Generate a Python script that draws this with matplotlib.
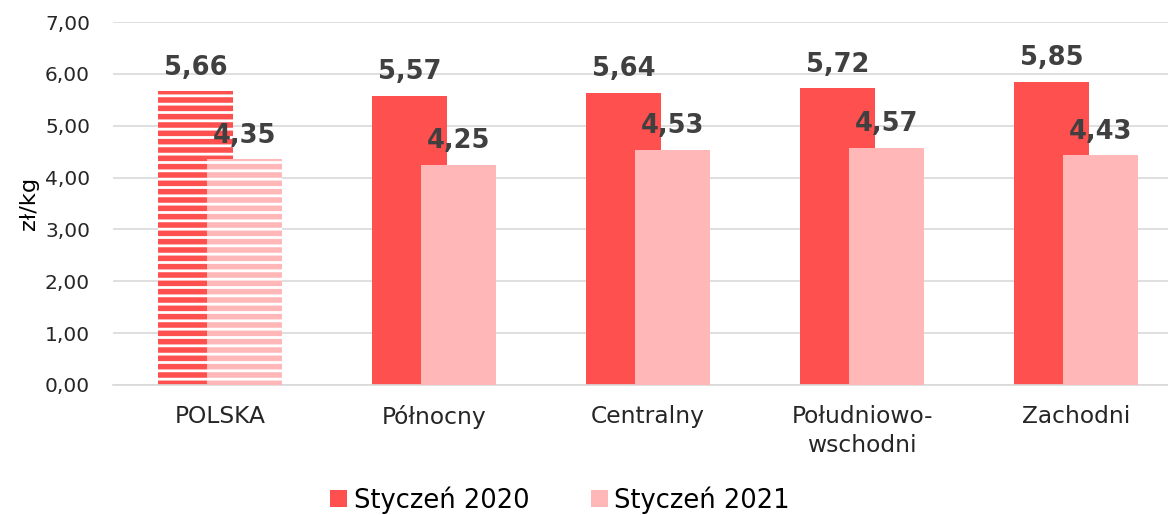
import matplotlib
matplotlib.use("Agg")
import matplotlib.pyplot as plt
import numpy as np
from matplotlib.patches import Patch

categories = ["POLSKA", "Północny", "Centralny", "Południowo-\nwschodni", "Zachodni"]
series_names = ["Styczeń 2020", "Styczeń 2021"]
values_2020 = [5.66, 5.57, 5.64, 5.72, 5.85]
values_2021 = [4.35, 4.25, 4.53, 4.57, 4.43]
yticks = [0, 1, 2, 3, 4, 5, 6, 7]

c2020 = "#FF5050"
c2021 = "#FFB7B7"
label_color = "#404040"

plt.rcParams['font.family'] = 'DejaVu Sans'
plt.rcParams['hatch.linewidth'] = 2.0

fig = plt.figure(figsize=(11.68, 5.15), dpi=100)
ax = fig.add_axes([113/1168, 130/515, 1070/1168, 363/515])

x = np.arange(len(categories))
w = 0.35
off = 0.113

for i in range(len(categories)):
    hatched = (i == 0)
    ax.bar(x[i] - off, values_2020[i], w, color=c2020,
           hatch='--' if hatched else None,
           edgecolor='white' if hatched else c2020, linewidth=0, zorder=2)
for i in range(len(categories)):
    hatched = (i == 0)
    ax.bar(x[i] + off, values_2021[i], w, color=c2021,
           hatch='--' if hatched else None,
           edgecolor='white' if hatched else c2021, linewidth=0, zorder=3)

def fmt(v):
    return f"{v:.2f}".replace(".", ",")

for i in range(len(categories)):
    ax.annotate(fmt(values_2020[i]), (x[i] - off, values_2020[i]), xytext=(0, 12),
                textcoords='offset points', ha='center', va='baseline',
                fontsize=18.5, fontweight='bold', color=label_color, zorder=5)
    ax.annotate(fmt(values_2021[i]), (x[i] + off, values_2021[i]), xytext=(0, 12),
                textcoords='offset points', ha='center', va='baseline',
                fontsize=18.5, fontweight='bold', color=label_color, zorder=5)

ax.set_xlim(-0.5, len(categories) - 0.5)
ax.set_ylim(0, 7)
ax.set_yticks(yticks)
ax.set_yticklabels([fmt(v) for v in yticks], fontsize=14.5, color="#262626")
ax.set_xticks(x)
ax.set_xticklabels(categories, fontsize=16.8, color="#262626", linespacing=1.35)
ax.tick_params(axis='x', length=0, pad=14.5)
ax.tick_params(axis='y', length=0, pad=16.5)
ax.yaxis.grid(True, color="#d9d9d9", linewidth=1.2, zorder=0)
ax.set_axisbelow(True)
for s in ["top", "right", "left"]:
    ax.spines[s].set_visible(False)
ax.spines["bottom"].set_color("#d9d9d9")
ax.spines["bottom"].set_linewidth(1.2)
ax.set_ylabel("zł/kg", fontsize=16.2, color="#000000", labelpad=4)

handles = [Patch(facecolor=c2020, edgecolor='none'), Patch(facecolor=c2021, edgecolor='none')]
fig.legend(handles, series_names, loc='center', bbox_to_anchor=(560/1168, 1 - 500/515),
           ncol=2, frameon=False, fontsize=18.5, handlelength=0.65, handleheight=0.65,
           handletextpad=0.25, columnspacing=2.4)

fig.savefig("out.png", dpi=100)
